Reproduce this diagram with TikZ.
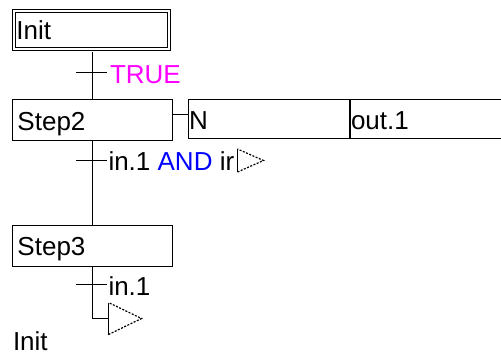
\documentclass[tikz,border=0pt]{standalone}
\usepackage{fontspec}
\setmainfont{Liberation Sans}
\definecolor{constclr}{RGB}{255,0,255}
\definecolor{kwclr}{RGB}{0,0,255}
\begin{document}
\begin{tikzpicture}[x=1bp,y=-1bp,line width=1bp,
  every node/.style={font=\fontsize{26bp}{30bp}\selectfont},
  stepbox/.style={draw,rectangle,inner sep=0pt,minimum width=160bp,minimum height=41bp,
    text width=150bp,align=left,text height=20bp,text depth=0pt},
  initbox/.style={stepbox,double,double distance=2bp,minimum width=155bp,minimum height=38bp,
    text height=19bp},
  actbox/.style={draw,rectangle,inner sep=0pt,minimum height=39bp,align=left,
    text height=21bp,text depth=0pt},
  trtext/.style={anchor=base west,inner sep=0pt},
  jumpedge/.style={line width=1.2bp,dash pattern=on 2bp off 1.5bp}
]
\useasboundingbox (0,0) rectangle (501,355);
\clip (0,0) rectangle (501,355);

% steps
\node[initbox] (init) at (91.5,30) {Init};
\node[stepbox] (step2) at (92.5,120) {Step2};
\node[stepbox] (step3) at (92.5,245.5) {Step3};

% action block of Step2
\node[actbox,minimum width=161bp,text width=160bp] (qual) at (269,119) {N};
\node[actbox,minimum width=170.5bp,text width=169.5bp,anchor=west] (act) at (qual.east) {out.1};
\coordinate (alink) at (172,114.5);
\draw (step2.east |- alink) -- (qual.west |- alink);

% transitions
\coordinate (t1) at (92.5,72.5);
\coordinate (t2) at (92.5,160.5);
\coordinate (t3) at (92.5,284.5);
\foreach \t in {t1,t2,t3}
  \draw ([xshift=-16.5bp]\t) -- ([xshift=14.5bp]\t);
\node[trtext,text=constclr] (c1) at (109.5,83) {TRUE};
\node[trtext] (c2) at (108,170) {in.1 \textcolor{kwclr}{AND} ir};
\node[trtext] (c3) at (108,295) {in.1};

% sequence lines
\draw (step2.north |- init.south) ++(0,2) -- (step2.north);
\draw (step2.south) -- (step3.north);

% jump symbols
\coordinate (j1) at (237.5,160.5);
\draw ([yshift=-11.5bp]j1) -- ([yshift=11.5bp]j1);
\draw[jumpedge] ([yshift=-11.5bp]j1) -- ([xshift=26bp]j1) -- ([yshift=11.5bp]j1);

\coordinate (j2) at (108.5,318.5);
\draw (step3.south) |- (j2);
\draw ([yshift=-16bp]j2) -- ([yshift=16bp]j2);
\draw[jumpedge] ([yshift=-16bp]j2) -- ([xshift=33bp]j2) -- ([yshift=16bp]j2);
\node[trtext] (target) at (12.5,350.5) {Init};
\end{tikzpicture}
\end{document}
